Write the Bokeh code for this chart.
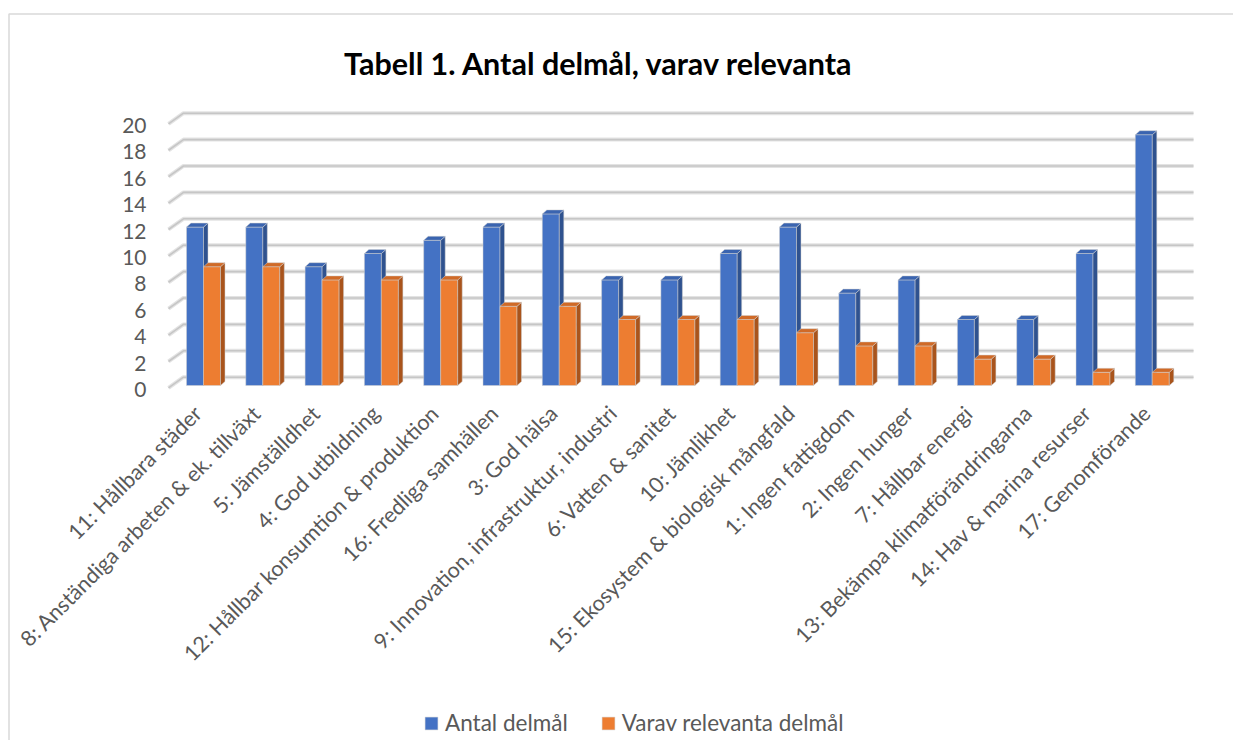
import math
from bokeh.plotting import figure
from bokeh.models import (Range1d, FixedTicker, CustomJSTickFormatter, Legend,
                          LegendItem, Label)
from bokeh.embed import file_html
from bokeh.resources import INLINE

# ---------------- data ----------------
categories = [
    "11: Hållbara städer",
    "8: Anständiga arbeten & ek. tillväxt",
    "5: Jämställdhet",
    "4: God utbildning",
    "12: Hållbar konsumtion & produktion",
    "16: Fredliga samhällen",
    "3: God hälsa",
    "9: Innovation, infrastruktur, industri",
    "6: Vatten & sanitet",
    "10: Jämlikhet",
    "15: Ekosystem & biologisk mångfald",
    "1: Ingen fattigdom",
    "2: Ingen hunger",
    "7: Hållbar energi",
    "13: Bekämpa klimatförändringarna",
    "14: Hav & marina resurser",
    "17: Genomförande",
]
antal = [12, 12, 9, 10, 11, 12, 13, 8, 8, 10, 12, 7, 8, 5, 5, 10, 19]
relevanta = [9, 9, 8, 8, 8, 6, 6, 5, 5, 5, 4, 3, 3, 2, 2, 1, 1]
y_ticks = list(range(0, 21, 2))
series_names = ["Antal delmål", "Varav relevanta delmål"]
title_text = "Tabell 1. Antal delmål, varav relevanta"

# ---------------- geometry / style ----------------
W, H = 1233, 740
PX_X = 59.3      # px per category
PX_Y = 13.2      # px per unit
X0_PX = 203      # pixel of category boundary 0
Y0_PX = 385      # pixel of value 0
BW = 17 / PX_X   # bar face width
DX = 4.5 / PX_X  # 3D depth in x
DY = 4 / PX_Y    # 3D depth in y
FONT = "Lato"
GRAY_TXT = "#595959"


def dx(px):
    return (px - X0_PX) / PX_X


def dy(py):
    return (Y0_PX - py) / PX_Y


BLUE = ("#4472C4", "#2F528F", "#3A64B0")
ORANGE = ("#ED7D31", "#A9541C", "#D06A27")

p = figure(width=W, height=H,
           x_range=Range1d(dx(0), dx(W)), y_range=Range1d(dy(H), dy(0)),
           min_border_left=0, min_border_right=0,
           min_border_top=0, min_border_bottom=0,
           output_backend="svg", toolbar_location=None,
           background_fill_color="white", border_fill_color="white")
p.outline_line_color = None
p.grid.visible = False

# chart border (left and top edges visible)
p.line([dx(8.5), dx(8.5), dx(W)], [dy(H), dy(13.5), dy(13.5)],
       line_color="#D9D9D9", line_width=1.5)

# 3D gridlines
gx0, gx1, gx2 = dx(168), dx(183), dx(1193)
g_front, g_back = -0.18, 0.63
grid_xs = [[gx0, gx1, gx2] for v in y_ticks]
grid_ys = [[v + g_front, v + g_back, v + g_back] for v in y_ticks]
p.multi_line(grid_xs, grid_ys, line_color="#E3E3E3", line_width=4)
p.multi_line(grid_xs, grid_ys, line_color="#C6C6C6", line_width=1.6)


def boxes(values, offset):
    face_x, face_y, side_x, side_y, top_x, top_y = [], [], [], [], [], []
    for i, h in enumerate(values):
        x0 = i + offset
        x1 = x0 + BW
        face_x.append([x0, x1, x1, x0]); face_y.append([0, 0, h, h])
        side_x.append([x1, x1 + DX, x1 + DX, x1]); side_y.append([0, DY, h + DY, h])
        top_x.append([x0, x1, x1 + DX, x0 + DX]); top_y.append([h, h, h + DY, h + DY])
    return face_x, face_y, side_x, side_y, top_x, top_y


renderers = []
for vals, off, cols in [(antal, -BW, BLUE), (relevanta, 0.0, ORANGE)]:
    fx, fy, sx, sy, tx, ty = boxes(vals, off)
    r = p.patches(fx, fy, fill_color=cols[0], line_color="#D0D0D0", line_width=0.5)
    p.patches(sx, sy, fill_color=cols[1], line_color="#D0D0D0", line_width=0.5)
    p.patches(tx, ty, fill_color=cols[2], line_color="#D0D0D0", line_width=0.5)
    renderers.append(r)

# x axis (categories)
xa = p.xaxis[0]
xa.fixed_location = dy(390)
xa.ticker = FixedTicker(ticks=[i - 0.1 for i in range(len(categories))])
xa.formatter = CustomJSTickFormatter(args=dict(cats=categories),
                                     code="return cats[Math.round(tick)];")
xa.major_label_orientation = math.pi / 4
xa.axis_line_color = None
xa.major_tick_line_color = None
xa.minor_tick_line_color = None
xa.major_label_standoff = 13
xa.major_label_text_font = FONT
xa.major_label_text_font_size = "21.5px"
xa.major_label_text_color = GRAY_TXT

# y axis
ya = p.yaxis[0]
ya.fixed_location = dx(160)
ya.ticker = FixedTicker(ticks=[v - 0.3 for v in y_ticks])
ya.formatter = CustomJSTickFormatter(code="return Math.round(tick).toString();")
ya.axis_line_color = None
ya.major_tick_line_color = None
ya.minor_tick_line_color = None
ya.major_label_standoff = 8
ya.major_label_text_font = FONT
ya.major_label_text_font_size = "21px"
ya.major_label_text_color = GRAY_TXT

# title
p.add_layout(Label(x=dx(598.5), y=dy(62), text=title_text,
                   text_align="center", text_baseline="alphabetic",
                   text_font=FONT, text_font_size="30.5px",
                   text_font_style="bold", text_color="black"))

# legend
legend = Legend(items=[LegendItem(label=series_names[0], renderers=[renderers[0]]),
                       LegendItem(label=series_names[1], renderers=[renderers[1]])],
                location=(423, 4), orientation="horizontal",
                glyph_width=16, glyph_height=16, label_standoff=6, spacing=32,
                padding=0, margin=0, border_line_color=None, background_fill_alpha=0,
                label_text_font=FONT, label_text_font_size="22.5px",
                label_text_color=GRAY_TXT)
p.add_layout(legend)

open("out.html", "w").write(file_html(p, INLINE))
